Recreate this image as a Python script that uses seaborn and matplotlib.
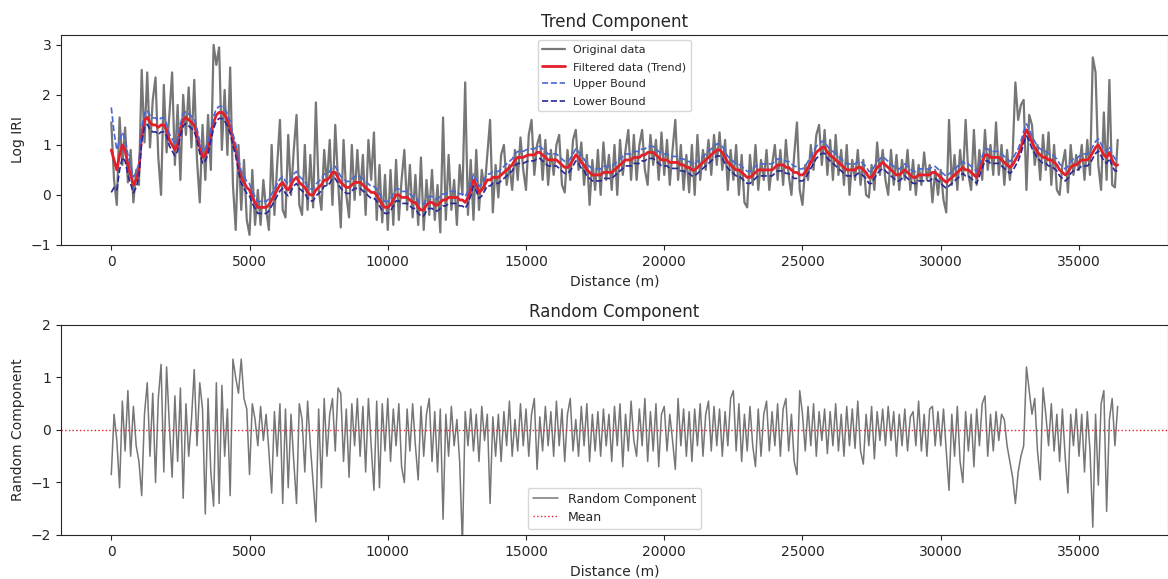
"""Trend / random decomposition of the log IRI profile along the road."""

import matplotlib

matplotlib.use("Agg")
import matplotlib.pyplot as plt
import numpy as np
import pandas as pd
import seaborn as sns


STEP_M = 100

ORIGINAL = [
    1.45, 0.3, -0.2, 1.55, 0.6, 1.35, 0.25, 0.9, -0.15, 0.5,
    0.2, 2.5, 1.05, 2.45, 0.95, 1.9, 2.35, 0.75, 0.0, 2.2,
    0.85, 1.6, 2.45, 0.6, 1.8, 0.3, 2.0, 1.2, 2.15, 0.95,
    2.3, 0.7, -0.15, 1.4, 0.3, 1.6, 0.5, 3.0, 2.6, 2.95,
    0.9, 2.1, 0.8, 2.55, 0.2, -0.7, 1.0, -0.3, 0.7, -0.5,
    -0.8, 0.5, -0.6, 0.1, -0.6, 0.3, -0.3, -0.7, 1.0, -0.4,
    0.6, 1.5, -0.3, -0.45, 1.2, 0.0, 0.9, 1.6, -0.2, -0.4,
    1.0, -0.3, 0.8, -0.25, 1.85, 0.1, -0.3, 0.9, 0.2, 1.1,
    -0.2, 1.4, 0.3, -0.65, 1.1, 0.0, -0.45, 1.0, -0.1, 0.9,
    0.0, 0.8, -0.4, 1.1, 0.3, 1.25, -0.5, 0.6, -0.55, 0.4,
    -0.7, 0.5, -0.6, 0.7, -0.5, 0.3, 0.9, -0.3, 0.6, -0.45,
    0.4, -0.6, 0.75, -0.7, 0.3, -0.4, 0.5, -0.5, 0.2, -0.75,
    1.55, -0.5, 0.8, -0.3, 0.3, -0.6, 0.6, 0.0, 2.25, -0.4,
    0.7, -0.5, 0.9, -0.3, 0.5, 0.1, 0.8, 1.5, -0.35, 0.6,
    -0.05, 0.8, 1.0, 0.2, 0.6, 0.1, 0.9, 0.3, 1.15, 0.5,
    0.1, 1.2, 1.5, 0.4, 1.0, 1.2, 0.3, 1.1, 0.2, 0.9,
    0.4, 1.0, 1.2, 0.2, 0.05, 0.9, 0.3, 1.1, 1.3, 0.5,
    1.05, 0.2, 0.8, -0.2, 0.7, 0.1, 0.9, 0.0, 1.05, 0.3,
    0.8, 0.1, 1.0, 0.0, 1.1, 0.4, 0.9, 1.3, 0.3, 1.2,
    0.3, 1.0, 1.3, 0.5, 0.2, 1.2, 0.6, 1.1, 0.3, 1.25,
    0.4, 1.1, 0.2, 0.9, 1.5, 0.3, 1.0, 0.1, 0.8, 0.05,
    1.0, 0.0, 1.2, 0.3, 0.9, 0.5, 1.1, 0.4, 1.2, 0.6,
    1.25, 0.5, 1.1, 0.1, 0.9, 0.3, 1.0, 0.0, 0.8, -0.15,
    -0.25, 0.8, 0.2, 1.0, 0.1, 0.7, 0.3, 0.9, 0.1, 0.6,
    1.0, 0.3, 0.9, 0.2, 1.1, 0.4, 0.0, 0.8, 1.45, 0.1,
    -0.2, 0.6, 0.3, 1.0, 0.5, 1.2, 1.4, 0.6, 1.3, 0.4,
    1.1, 0.3, 1.2, 0.4, 0.9, 0.2, 1.0, 0.0, 0.7, 0.3,
    0.9, 0.2, 0.7, 0.0, -0.05, 0.6, 0.1, 1.05, 0.4, 0.9,
    0.3, 0.0, 0.9, 0.2, 0.8, 0.1, 0.7, 0.3, 0.9, 0.1,
    0.7, 0.0, 0.6, 0.2, 0.85, 0.3, 0.6, -0.15, 0.5, 0.0,
    0.5, -0.1, -0.35, 1.5, 0.2, 0.8, 0.1, 0.9, 0.3, 1.5,
    0.4, 0.1, 1.3, 0.2, 0.9, 0.3, 1.3, 0.5, 1.0, 0.4,
    1.45, 0.4, 1.0, 0.2, 0.9, 0.3, 0.8, 2.25, 1.5, 1.8,
    1.9, 0.1, 1.6, 1.4, 0.6, 1.0, 0.3, 1.2, 0.5, 1.25,
    0.2, 1.0, 0.1, 0.0, 0.6, 0.9, 0.05, 1.0, 0.4, 0.8,
    0.5, 1.0, 0.3, 1.1, 0.4, 2.75, 2.45, 0.6, 0.1, 1.65,
    0.3, 2.3, 0.2, 0.15, 1.1,
]

TREND = [
    0.9, 0.7, 0.5, 0.8, 1.0, 0.9, 0.6, 0.4, 0.2, 0.3,
    0.5, 1.2, 1.5, 1.55, 1.45, 1.4, 1.4, 1.35, 1.4, 1.4,
    1.3, 1.1, 1.0, 0.9, 1.0, 1.3, 1.5, 1.55, 1.5, 1.45,
    1.4, 1.2, 0.95, 0.75, 0.8, 0.95, 1.2, 1.45, 1.6, 1.65,
    1.65, 1.6, 1.5, 1.35, 1.1, 0.9, 0.6, 0.35, 0.25, 0.15,
    0.1, -0.05, -0.15, -0.25, -0.25, -0.25, -0.25, -0.2, -0.1, 0.0,
    0.1, 0.2, 0.25, 0.15, 0.1, 0.2, 0.3, 0.35, 0.25, 0.2,
    0.15, 0.05, 0.0, 0.0, 0.1, 0.15, 0.2, 0.3, 0.3, 0.35,
    0.45, 0.45, 0.35, 0.25, 0.2, 0.15, 0.15, 0.2, 0.25, 0.25,
    0.25, 0.2, 0.15, 0.1, 0.05, 0.05, 0.0, -0.1, -0.2, -0.25,
    -0.25, -0.2, -0.1, 0.0, 0.0, -0.05, -0.05, -0.05, -0.1, -0.15,
    -0.15, -0.25, -0.3, -0.3, -0.2, -0.15, -0.15, -0.2, -0.2, -0.15,
    -0.1, -0.1, -0.05, -0.05, -0.05, -0.05, -0.1, -0.1, -0.15, -0.05,
    0.1, 0.3, 0.2, 0.05, 0.1, 0.2, 0.3, 0.3, 0.35, 0.35,
    0.35, 0.4, 0.45, 0.5, 0.55, 0.6, 0.7, 0.75, 0.75, 0.75,
    0.78, 0.8, 0.8, 0.8, 0.85, 0.85, 0.8, 0.75, 0.7, 0.7,
    0.7, 0.7, 0.65, 0.6, 0.55, 0.55, 0.6, 0.7, 0.8, 0.75,
    0.65, 0.6, 0.5, 0.45, 0.4, 0.4, 0.4, 0.4, 0.45, 0.45,
    0.45, 0.45, 0.5, 0.55, 0.6, 0.65, 0.7, 0.7, 0.7, 0.75,
    0.75, 0.75, 0.8, 0.8, 0.85, 0.85, 0.85, 0.8, 0.75, 0.7,
    0.7, 0.7, 0.65, 0.65, 0.65, 0.65, 0.6, 0.6, 0.55, 0.55,
    0.5, 0.5, 0.55, 0.6, 0.65, 0.7, 0.75, 0.8, 0.85, 0.9,
    0.9, 0.85, 0.75, 0.65, 0.6, 0.55, 0.5, 0.5, 0.45, 0.4,
    0.35, 0.35, 0.4, 0.45, 0.5, 0.5, 0.5, 0.5, 0.5, 0.5,
    0.55, 0.6, 0.6, 0.6, 0.55, 0.55, 0.5, 0.45, 0.45, 0.4,
    0.4, 0.45, 0.55, 0.65, 0.75, 0.85, 0.9, 0.95, 0.95, 0.85,
    0.8, 0.75, 0.7, 0.65, 0.6, 0.55, 0.5, 0.5, 0.5, 0.5,
    0.55, 0.55, 0.5, 0.45, 0.35, 0.35, 0.45, 0.55, 0.6, 0.65,
    0.6, 0.55, 0.5, 0.45, 0.4, 0.4, 0.45, 0.5, 0.45, 0.4,
    0.35, 0.35, 0.4, 0.4, 0.4, 0.4, 0.4, 0.45, 0.45, 0.4,
    0.35, 0.3, 0.25, 0.3, 0.35, 0.4, 0.45, 0.5, 0.55, 0.5,
    0.5, 0.45, 0.4, 0.35, 0.5, 0.65, 0.8, 0.8, 0.75, 0.75,
    0.75, 0.75, 0.7, 0.65, 0.6, 0.55, 0.6, 0.7, 0.8, 0.95,
    1.15, 1.3, 1.2, 1.05, 0.95, 0.85, 0.8, 0.75, 0.75, 0.7,
    0.7, 0.65, 0.6, 0.5, 0.45, 0.4, 0.45, 0.55, 0.6, 0.6,
    0.65, 0.7, 0.7, 0.7, 0.75, 0.85, 0.95, 1.0, 0.9, 0.8,
    0.75, 0.85, 0.7, 0.6, 0.6,
]

UPPER = [
    1.75, 1.25, 0.9, 1.1, 1.25, 1.12, 0.8, 0.58, 0.36, 0.45,
    0.64, 1.34, 1.64, 1.69, 1.59, 1.54, 1.54, 1.49, 1.54, 1.54,
    1.42, 1.22, 1.12, 1.02, 1.12, 1.42, 1.62, 1.67, 1.62, 1.57,
    1.52, 1.32, 1.07, 0.87, 0.92, 1.07, 1.32, 1.57, 1.72, 1.77,
    1.77, 1.72, 1.62, 1.47, 1.22, 1.02, 0.72, 0.47, 0.37, 0.27,
    0.22, 0.07, -0.03, -0.13, -0.13, -0.13, -0.13, -0.08, 0.02, 0.12,
    0.22, 0.32, 0.37, 0.27, 0.22, 0.32, 0.42, 0.47, 0.37, 0.32,
    0.27, 0.17, 0.12, 0.12, 0.22, 0.27, 0.32, 0.42, 0.42, 0.47,
    0.57, 0.57, 0.47, 0.37, 0.32, 0.27, 0.27, 0.32, 0.37, 0.37,
    0.37, 0.32, 0.27, 0.22, 0.17, 0.17, 0.12, 0.02, -0.08, -0.13,
    -0.13, -0.08, 0.02, 0.12, 0.12, 0.07, 0.07, 0.07, 0.02, -0.03,
    -0.03, -0.13, -0.18, -0.18, -0.08, -0.03, -0.03, -0.08, -0.08, -0.03,
    0.02, 0.02, 0.07, 0.07, 0.07, 0.07, 0.02, 0.02, -0.03, 0.07,
    0.22, 0.42, 0.32, 0.17, 0.22, 0.32, 0.42, 0.42, 0.47, 0.47,
    0.47, 0.52, 0.57, 0.62, 0.67, 0.72, 0.82, 0.87, 0.87, 0.87,
    0.9, 0.92, 0.92, 0.92, 0.97, 0.97, 0.92, 0.87, 0.82, 0.82,
    0.82, 0.82, 0.77, 0.72, 0.67, 0.67, 0.72, 0.82, 0.92, 0.87,
    0.77, 0.72, 0.62, 0.57, 0.52, 0.52, 0.52, 0.52, 0.57, 0.57,
    0.57, 0.57, 0.62, 0.67, 0.72, 0.77, 0.82, 0.82, 0.82, 0.87,
    0.87, 0.87, 0.92, 0.92, 0.97, 0.97, 0.97, 0.92, 0.87, 0.82,
    0.82, 0.82, 0.77, 0.77, 0.77, 0.77, 0.72, 0.72, 0.67, 0.67,
    0.62, 0.62, 0.67, 0.72, 0.77, 0.82, 0.87, 0.92, 0.97, 1.02,
    1.02, 0.97, 0.87, 0.77, 0.72, 0.67, 0.62, 0.62, 0.57, 0.52,
    0.47, 0.47, 0.52, 0.57, 0.62, 0.62, 0.62, 0.62, 0.62, 0.62,
    0.67, 0.72, 0.72, 0.72, 0.67, 0.67, 0.62, 0.57, 0.57, 0.52,
    0.52, 0.57, 0.67, 0.77, 0.87, 0.97, 1.02, 1.07, 1.07, 0.97,
    0.92, 0.87, 0.82, 0.77, 0.72, 0.67, 0.62, 0.62, 0.62, 0.62,
    0.67, 0.67, 0.62, 0.57, 0.47, 0.47, 0.57, 0.67, 0.72, 0.77,
    0.72, 0.67, 0.62, 0.57, 0.52, 0.52, 0.57, 0.62, 0.57, 0.52,
    0.47, 0.47, 0.52, 0.52, 0.52, 0.52, 0.52, 0.57, 0.57, 0.52,
    0.47, 0.42, 0.37, 0.42, 0.47, 0.52, 0.57, 0.62, 0.67, 0.62,
    0.62, 0.57, 0.52, 0.47, 0.62, 0.77, 0.92, 0.92, 0.87, 0.87,
    0.87, 0.87, 0.82, 0.77, 0.72, 0.67, 0.72, 0.82, 0.92, 1.07,
    1.27, 1.42, 1.32, 1.17, 1.07, 0.97, 0.92, 0.87, 0.87, 0.82,
    0.82, 0.77, 0.72, 0.62, 0.57, 0.52, 0.57, 0.67, 0.72, 0.72,
    0.77, 0.82, 0.82, 0.82, 0.87, 0.97, 1.07, 1.12, 1.02, 0.92,
    0.87, 0.97, 0.82, 0.72, 0.72,
]

LOWER = [
    0.05, 0.15, 0.1, 0.5, 0.75, 0.68, 0.4, 0.22, 0.04, 0.15,
    0.36, 1.06, 1.36, 1.41, 1.31, 1.26, 1.26, 1.21, 1.26, 1.26,
    1.18, 0.98, 0.88, 0.78, 0.88, 1.18, 1.38, 1.43, 1.38, 1.33,
    1.28, 1.08, 0.83, 0.63, 0.68, 0.83, 1.08, 1.33, 1.48, 1.53,
    1.53, 1.48, 1.38, 1.23, 0.98, 0.78, 0.48, 0.23, 0.13, 0.03,
    -0.02, -0.17, -0.27, -0.37, -0.37, -0.37, -0.37, -0.32, -0.22, -0.12,
    -0.02, 0.08, 0.13, 0.03, -0.02, 0.08, 0.18, 0.23, 0.13, 0.08,
    0.03, -0.07, -0.12, -0.12, -0.02, 0.03, 0.08, 0.18, 0.18, 0.23,
    0.33, 0.33, 0.23, 0.13, 0.08, 0.03, 0.03, 0.08, 0.13, 0.13,
    0.13, 0.08, 0.03, -0.02, -0.07, -0.07, -0.12, -0.22, -0.32, -0.37,
    -0.37, -0.32, -0.22, -0.12, -0.12, -0.17, -0.17, -0.17, -0.22, -0.27,
    -0.27, -0.37, -0.42, -0.42, -0.32, -0.27, -0.27, -0.32, -0.32, -0.27,
    -0.22, -0.22, -0.17, -0.17, -0.17, -0.17, -0.22, -0.22, -0.27, -0.17,
    -0.02, 0.18, 0.08, -0.07, -0.02, 0.08, 0.18, 0.18, 0.23, 0.23,
    0.23, 0.28, 0.33, 0.38, 0.43, 0.48, 0.58, 0.63, 0.63, 0.63,
    0.66, 0.68, 0.68, 0.68, 0.73, 0.73, 0.68, 0.63, 0.58, 0.58,
    0.58, 0.58, 0.53, 0.48, 0.43, 0.43, 0.48, 0.58, 0.68, 0.63,
    0.53, 0.48, 0.38, 0.33, 0.28, 0.28, 0.28, 0.28, 0.33, 0.33,
    0.33, 0.33, 0.38, 0.43, 0.48, 0.53, 0.58, 0.58, 0.58, 0.63,
    0.63, 0.63, 0.68, 0.68, 0.73, 0.73, 0.73, 0.68, 0.63, 0.58,
    0.58, 0.58, 0.53, 0.53, 0.53, 0.53, 0.48, 0.48, 0.43, 0.43,
    0.38, 0.38, 0.43, 0.48, 0.53, 0.58, 0.63, 0.68, 0.73, 0.78,
    0.78, 0.73, 0.63, 0.53, 0.48, 0.43, 0.38, 0.38, 0.33, 0.28,
    0.23, 0.23, 0.28, 0.33, 0.38, 0.38, 0.38, 0.38, 0.38, 0.38,
    0.43, 0.48, 0.48, 0.48, 0.43, 0.43, 0.38, 0.33, 0.33, 0.28,
    0.28, 0.33, 0.43, 0.53, 0.63, 0.73, 0.78, 0.83, 0.83, 0.73,
    0.68, 0.63, 0.58, 0.53, 0.48, 0.43, 0.38, 0.38, 0.38, 0.38,
    0.43, 0.43, 0.38, 0.33, 0.23, 0.23, 0.33, 0.43, 0.48, 0.53,
    0.48, 0.43, 0.38, 0.33, 0.28, 0.28, 0.33, 0.38, 0.33, 0.28,
    0.23, 0.23, 0.28, 0.28, 0.28, 0.28, 0.28, 0.33, 0.33, 0.28,
    0.23, 0.18, 0.13, 0.18, 0.23, 0.28, 0.33, 0.38, 0.43, 0.38,
    0.38, 0.33, 0.28, 0.23, 0.38, 0.53, 0.68, 0.68, 0.63, 0.63,
    0.63, 0.63, 0.58, 0.53, 0.48, 0.43, 0.48, 0.58, 0.68, 0.83,
    1.03, 1.18, 1.08, 0.93, 0.83, 0.73, 0.68, 0.63, 0.63, 0.58,
    0.58, 0.53, 0.48, 0.38, 0.33, 0.28, 0.33, 0.43, 0.48, 0.48,
    0.53, 0.58, 0.58, 0.58, 0.63, 0.73, 0.83, 0.88, 0.78, 0.68,
    0.63, 0.73, 0.58, 0.48, 0.48,
]

RANDOM = [
    -0.85, 0.3, -0.2, -1.1, 0.55, -0.4, 0.75, -0.5, 0.45, -0.3,
    -0.6, -1.25, 0.3, 0.9, -0.5, 0.7, -1.0, 0.6, 1.25, -0.8,
    1.2, 0.1, -0.9, 0.65, -0.6, 0.8, -1.3, 0.5, -0.5, 0.2,
    1.15, -0.3, 0.9, 0.4, -1.6, 0.6, -0.8, -1.45, 0.9, -1.4,
    0.85, -0.5, 0.4, -1.25, 1.35, 1.0, 0.7, 1.35, 0.6, 0.4,
    -0.85, 0.5, 0.2, -0.3, 0.45, -0.2, 0.3, -0.4, -1.2, 0.35,
    -0.5, 0.5, -1.4, 0.4, -1.1, 0.3, -0.6, -1.4, 0.5, 0.2,
    -0.8, 0.55, -0.3, -1.0, -1.75, 0.4, -1.1, 0.6, -0.5, 0.3,
    0.6, -0.4, 0.8, 0.7, -0.6, 0.4, -0.9, 0.5, -0.3, 0.6,
    -0.5, 0.45, -0.8, 0.6, -0.3, -1.15, 0.55, -1.1, 0.5, -0.4,
    0.6, -0.6, 0.4, -0.3, 0.5, -0.7, -1.0, 0.4, -0.4, 0.5,
    -0.3, -0.95, 0.45, -0.5, 0.3, 0.6, -0.6, 0.35, -0.8, 0.4,
    -1.7, 0.3, -0.5, 0.45, -0.3, 0.2, -0.6, -2.2, 0.35, -0.3,
    0.4, -0.4, 0.3, -0.6, 0.45, -0.2, 0.3, -1.4, 0.25, -0.5,
    0.3, -0.6, 0.35, -0.3, 0.55, -0.5, 0.2, -0.4, 0.5, -0.3,
    0.4, -0.5, 0.3, 0.6, -0.75, 0.25, -0.4, 0.45, -0.3, 0.35,
    -0.5, 0.55, -0.3, 0.4, -0.6, 0.3, 0.6, -0.4, 0.2, -0.5,
    0.45, -0.3, 0.5, -0.6, 0.3, -0.4, 0.35, -0.5, 0.4, -0.3,
    0.3, -0.6, 0.45, -0.3, 0.5, -0.7, 0.3, -0.4, 0.55, -0.2,
    -0.5, 0.4, -0.3, 0.6, -0.6, 0.35, -0.4, 0.5, -0.7, 0.3,
    0.45, -0.4, 0.3, -0.2, -0.75, 0.6, -0.3, 0.4, -0.5, 0.35,
    -0.6, 0.4, -0.3, 0.5, -0.5, 0.3, 0.55, -0.4, 0.45, -0.3,
    0.4, -0.5, 0.35, -0.3, 0.6, 0.75, -0.4, 0.5, -0.6, 0.3,
    -0.4, 0.45, -0.3, -0.7, 0.4, -0.5, 0.3, 0.55, -0.4, 0.35,
    -0.3, 0.5, -0.5, 0.4, 0.6, -0.4, 0.3, -0.6, -0.85, 0.75,
    0.3, -0.4, 0.45, -0.3, 0.5, -0.5, 0.35, -0.2, 0.4, -0.45,
    0.35, -0.3, 0.5, -0.4, 0.3, -0.5, 0.45, -0.3, 0.4, -0.35,
    0.55, -0.4, -0.65, 0.3, -0.3, 0.45, -0.55, 0.35, -0.2, 0.4,
    -0.3, 0.45, -0.2, 0.35, -0.5, 0.3, -0.3, 0.4, -0.4, 0.25,
    0.35, -0.3, 0.55, -0.4, 0.3, -0.5, 0.4, 0.45, -0.3, 0.35,
    -0.3, 0.4, -0.4, -1.15, 0.3, -0.5, 0.45, -0.6, -1.0, 0.35,
    -0.4, 0.3, -0.7, 0.4, -0.3, 0.5, 0.65, -0.5, 0.3, -0.4,
    0.35, -0.2, 0.3, 0.2, -0.3, -0.6, -0.9, -1.4, -0.8, -0.5,
    -0.3, 1.2, 0.75, 0.3, 0.6, -0.4, -0.95, 0.8, 0.3, -0.3,
    0.5, -0.4, 0.3, -0.6, 0.4, -0.5, -1.2, 0.3, -0.3, 0.4,
    -0.5, 0.3, -0.8, 0.35, -0.4, -1.85, 0.3, -1.05, 0.5, 0.75,
    -1.55, 0.2, 0.6, -0.3, 0.45,
]

GRAY = "#767676"
RED = "#e3202a"
UPPER_BLUE = "#4867d6"
LOWER_BLUE = "#27279a"


def build_frame() -> pd.DataFrame:
    distance = np.arange(len(ORIGINAL)) * STEP_M
    return pd.DataFrame({
        "distance": distance,
        "original": ORIGINAL,
        "trend": TREND,
        "upper": UPPER,
        "lower": LOWER,
        "random": RANDOM,
    })


def plot_trend(ax, data: pd.DataFrame) -> None:
    sns.lineplot(data=data, x="distance", y="original", ax=ax, color=GRAY, linewidth=1.6, label="Original data")
    sns.lineplot(data=data, x="distance", y="trend", ax=ax, color=RED, linewidth=2.0, label="Filtered data (Trend)")
    sns.lineplot(data=data, x="distance", y="upper", ax=ax, color=UPPER_BLUE, linewidth=1.2,
                 linestyle="--", label="Upper Bound")
    sns.lineplot(data=data, x="distance", y="lower", ax=ax, color=LOWER_BLUE, linewidth=1.2,
                 linestyle="--", label="Lower Bound")
    ax.set_ylim(-1, 3.2)
    ax.set_title("Trend Component", fontsize=12)
    ax.set_xlabel("Distance (m)", fontsize=10)
    ax.set_ylabel("Log IRI", fontsize=10)
    ax.legend(loc="upper center", fontsize=8, handlelength=2.0, labelspacing=0.65, borderaxespad=0.5)


def plot_random(ax, data: pd.DataFrame) -> None:
    sns.lineplot(data=data, x="distance", y="random", ax=ax, color=GRAY, linewidth=1.1, label="Random Component")
    ax.axhline(0.0, color=RED, linestyle=":", linewidth=1.0, label="Mean")
    ax.set_ylim(-2, 2)
    ax.set_yticks([-2, -1, 0, 1, 2])
    ax.set_title("Random Component", fontsize=12)
    ax.set_xlabel("Distance (m)", fontsize=10)
    ax.set_ylabel("Random Component", fontsize=10)
    ax.legend(loc="lower center", fontsize=9, handlelength=2.0, labelspacing=0.4, borderaxespad=0.5)


def main() -> None:
    sns.set_style("ticks")
    plt.rcParams["font.family"] = ["DejaVu Sans"]
    data = build_frame()

    fig = plt.figure(figsize=(11.68, 5.79), dpi=100)
    ax_top = fig.add_axes([0.0522, 0.577, 0.9478, 0.3627])
    ax_bottom = fig.add_axes([0.0522, 0.076, 0.9478, 0.3627])

    plot_trend(ax_top, data)
    plot_random(ax_bottom, data)
    for ax in (ax_top, ax_bottom):
        ax.set_xlim(-1820, 38220)
        ax.tick_params(labelsize=10)

    fig.savefig("out.png", dpi=100)
    plt.close(fig)


if __name__ == "__main__":
    main()
